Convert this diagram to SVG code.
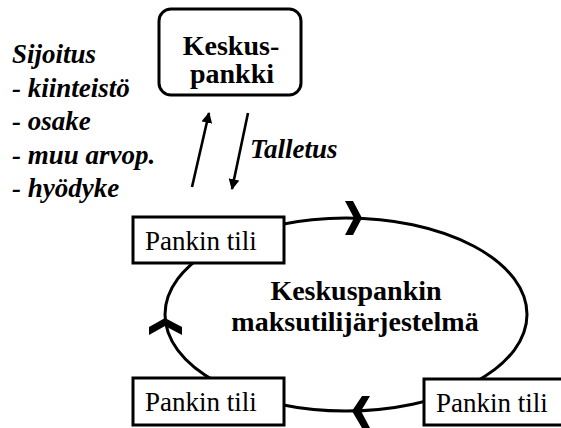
<svg xmlns="http://www.w3.org/2000/svg" width="561" height="428" viewBox="0 0 561 428" font-family="Liberation Serif, Times New Roman, serif">
<defs>
<style>
.box{fill:#fff;stroke:#000;stroke-width:3}
.reg{font-size:27px}
.bold{font-size:28px;font-weight:bold}
.bi{font-size:27px;font-weight:bold;font-style:italic}
.line{fill:none;stroke:#000;stroke-width:3}
.arr{fill:none;stroke:#000;stroke-width:2.6}
.chev{fill:#000;stroke:none}
</style>
<marker id="ah" viewBox="0 0 10 10" refX="9" refY="5" markerWidth="4.2" markerHeight="4.2" orient="auto" markerUnits="strokeWidth">
<path d="M0,0 L10,5 L0,10 z" fill="#000"/>
</marker>
</defs>
<rect width="561" height="428" fill="#fff"/>
<g id="connectors">
<ellipse class="line" cx="346" cy="314.5" rx="181" ry="96.5"/>
<polygon class="chev" points="345,201 353,201 362,218 353,235 345,235 354,218"/>
<polygon class="chev" points="165,318 182,327 182,335 165,326 149,335 149,327"/>
<polygon class="chev" points="370,396 362,396 352,411 362,428 370,428 361,411"/>
<line class="arr" x1="192" y1="187" x2="209" y2="113" marker-end="url(#ah)"/>
<line class="arr" x1="248" y1="113" x2="232" y2="189" marker-end="url(#ah)"/>
</g>
<g id="keskuspankki">
<rect class="box" x="159" y="9" width="142" height="86" rx="12"/>
<text class="bold" x="231" y="55" text-anchor="middle">Keskus-</text>
<text class="bold" x="232" y="83" text-anchor="middle">pankki</text>
</g>
<g id="sijoitus">
<text class="bi" x="12" y="63">Sijoitus</text>
<text class="bi" x="12" y="97">- kiinteistö</text>
<text class="bi" x="12" y="130">- osake</text>
<text class="bi" x="12" y="164">- muu arvop.</text>
<text class="bi" x="12" y="197">- hyödyke</text>
</g>
<g id="talletus">
<text class="bi" x="250" y="158">Talletus</text>
</g>
<g id="jarjestelma">
<text class="bold" x="356" y="300" text-anchor="middle">Keskuspankin</text>
<text class="bold" x="355" y="331" text-anchor="middle">maksutilijärjestelmä</text>
</g>
<g id="tili1">
<rect class="box" x="133" y="217" width="151" height="46"/>
<text class="reg" x="145" y="250">Pankin tili</text>
</g>
<g id="tili2">
<rect class="box" x="133" y="378" width="151" height="47"/>
<text class="reg" x="145" y="411">Pankin tili</text>
</g>
<g id="tili3">
<rect class="box" x="424" y="379" width="150" height="46"/>
<text class="reg" x="436" y="412">Pankin tili</text>
</g>
</svg>
